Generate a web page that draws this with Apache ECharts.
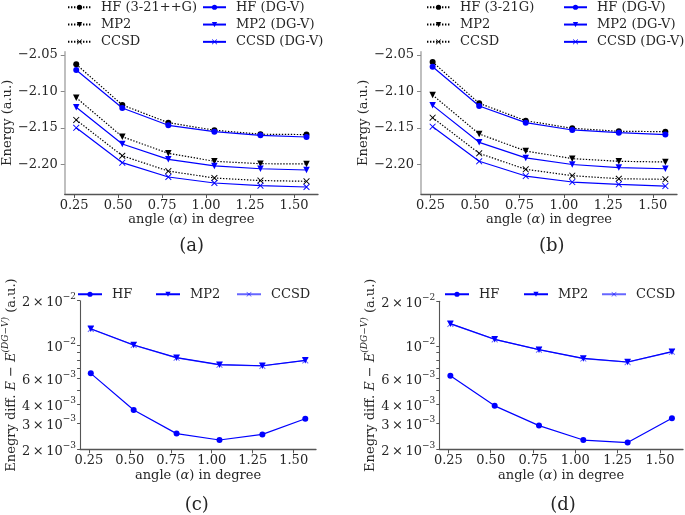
<!DOCTYPE html>
<html><head><meta charset="utf-8">
<script src="https://cdn.jsdelivr.net/npm/echarts@6/dist/echarts.min.js"></script>
<style>html,body{margin:0;padding:0;background:#fff}#c{width:685px;height:515px}</style>
</head><body><div id="c"></div>
<script>
// ---------- data ----------
const angles = [0.2618, 0.5236, 0.7854, 1.0472, 1.3090, 1.5708];
const xTicks = [0.25, 0.50, 0.75, 1.00, 1.25, 1.50];
const energyTicks = [-2.20, -2.15, -2.10, -2.05];
const diffTicks = [0.002, 0.003, 0.004, 0.006, 0.01, 0.02];
const diffAllTicks = [0.002, 0.003, 0.004, 0.005, 0.006, 0.007, 0.008, 0.009, 0.01, 0.02];

// panel (a): 3-21++G vs DG-V
const a_HF      = [-2.0628, -2.1185, -2.1427, -2.1530, -2.1585, -2.1590];
const a_MP2     = [-2.1085, -2.1620, -2.1847, -2.1956, -2.1989, -2.1993];
const a_CCSD    = [-2.1390, -2.1880, -2.2090, -2.2185, -2.2220, -2.2230];
const a_HF_DG   = [-2.0705, -2.1226, -2.1463, -2.1550, -2.1600, -2.1623];
const a_MP2_DG  = [-2.1217, -2.1719, -2.1929, -2.2020, -2.2058, -2.2075];
const a_CCSD_DG = [-2.1498, -2.1975, -2.2171, -2.2253, -2.2290, -2.2308];
// panel (b): 3-21G vs DG-V
const b_HF      = [-2.0596, -2.1162, -2.1400, -2.1504, -2.1545, -2.1550];
const b_MP2     = [-2.1048, -2.1582, -2.1815, -2.1920, -2.1956, -2.1966];
const b_CCSD    = [-2.1359, -2.1847, -2.2066, -2.2153, -2.2195, -2.2203];
const b_HF_DG   = [-2.0660, -2.1199, -2.1427, -2.1527, -2.1564, -2.1590];
const b_MP2_DG  = [-2.1190, -2.1696, -2.1910, -2.2000, -2.2042, -2.2058];
const b_CCSD_DG = [-2.1482, -2.1956, -2.2158, -2.2240, -2.2271, -2.2295];
// panel (c): energy differences (3-21++G)
const c_HF   = [6.49e-3, 3.68e-3, 2.55e-3, 2.31e-3, 2.52e-3, 3.21e-3];
const c_MP2  = [1.296e-2, 1.007e-2, 8.27e-3, 7.42e-3, 7.30e-3, 7.94e-3];
const c_CCSD = [1.29e-2, 1.005e-2, 8.25e-3, 7.40e-3, 7.28e-3, 7.92e-3];
// panel (d): energy differences (3-21G)
const d_HF   = [6.28e-3, 3.93e-3, 2.89e-3, 2.31e-3, 2.22e-3, 3.24e-3];
const d_MP2  = [1.41e-2, 1.106e-2, 9.42e-3, 8.22e-3, 7.77e-3, 9.12e-3];
const d_CCSD = [1.405e-2, 1.104e-2, 9.40e-3, 8.20e-3, 7.75e-3, 9.10e-3];

// ---------- styling ----------
const FONT = '"DejaVu Serif", "Liberation Serif", serif';
const TXT = '#262626';
const FS = 13;
const BLUE = '#0000ff';
const XSYM = 'path://M1,0L5,4L9,0L10,1L6,5L10,9L9,10L5,6L1,10L0,9L4,5L0,1Z';
const VSYM = 'path://M0,0L10,0L5,9Z';
const XMIN = 0.1964, XMAX = 1.6362;

const pair = (ys) => angles.map((x, i) => [x, ys[i]]);
const logPair = (ys) => angles.map((x, i) => [x, Math.log10(ys[i])]);

function lineSeries(name, data, color, symbol, dotted, gi, opacity) {
  return {
    type: 'line', name, data, xAxisIndex: gi, yAxisIndex: gi,
    symbol, symbolSize: symbol === 'circle' ? 6 : 6.5, showSymbol: true,
    lineStyle: { color, width: 1.2, type: dotted ? [1.4, 1.6] : 'solid', opacity: opacity || 1 },
    itemStyle: { color, opacity: opacity || 1 },
    animation: false, z: dotted ? 2 : 3
  };
}

function xAxis(gi, lineColor) {
  return {
    type: 'value', gridIndex: gi, min: XMIN, max: XMAX,
    name: '{r|angle (}{i|α}{r|) in degree}', nameLocation: 'middle', nameGap: gi < 2 ? 18 : 20,
    nameTextStyle: { rich: {
      r: { fontFamily: FONT, fontSize: FS, color: TXT },
      i: { fontFamily: FONT, fontSize: FS, fontStyle: 'italic', color: TXT } } },
    splitLine: { show: false },
    axisLine: { onZero: false, lineStyle: { color: lineColor, width: 1.3 } },
    axisTick: { customValues: xTicks, length: 4, lineStyle: { color: lineColor, width: 1 } },
    axisLabel: { customValues: xTicks, formatter: (v) => v.toFixed(2), fontFamily: FONT, fontSize: FS, color: TXT, margin: 5 }
  };
}

function yEnergy(gi) {
  return {
    type: 'value', gridIndex: gi, min: -2.2404, max: -2.0455,
    name: 'Energy (a.u.)', nameLocation: 'middle', nameGap: 44,
    nameTextStyle: { fontFamily: FONT, fontSize: FS, color: TXT },
    splitLine: { show: false },
    axisLine: { onZero: false, lineStyle: { color: '#b0b0b0', width: 1.6 } },
    axisTick: { customValues: energyTicks, length: 4, lineStyle: { color: '#888', width: 1 } },
    axisLabel: { customValues: energyTicks, formatter: (v) => v.toFixed(2).replace('-', '\u2212'), fontFamily: FONT, fontSize: FS, color: TXT, margin: 7 }
  };
}

function logLabel(v) {
  const val = Math.pow(10, v);
  const exp = Math.floor(Math.log10(val) + 1e-9);
  const mant = Math.round(val / Math.pow(10, exp));
  const e = '{e|\u2212' + (-exp) + '}';
  return mant === 1 ? '{m|10}' + e : '{m|' + mant + '\u2009×\u200910}' + e;
}

function yDiff(gi) {
  return {
    type: 'value', gridIndex: gi, min: Math.log10(0.002), max: Math.log10(0.02),
    name: '{r|Enegry diff. }{i|E}{r| \u2212 }{i|E}{s|(DG\u2212V)}{r| (a.u.)}',
    nameLocation: 'middle', nameGap: 61,
    nameTextStyle: { rich: {
      r: { fontFamily: FONT, fontSize: FS, color: TXT, lineHeight: 17, verticalAlign: 'bottom' },
      i: { fontFamily: FONT, fontSize: FS, fontStyle: 'italic', color: TXT, lineHeight: 17, verticalAlign: 'bottom' },
      s: { fontFamily: FONT, fontSize: 9, fontStyle: 'italic', color: TXT, lineHeight: 10, verticalAlign: 'top' } } },
    splitLine: { show: false },
    axisLine: { onZero: false, lineStyle: { color: '#555', width: 1.1 } },
    axisTick: { customValues: diffAllTicks.map(Math.log10), length: 3, lineStyle: { color: '#555', width: 1 } },
    axisLabel: { customValues: diffTicks.map(Math.log10), formatter: logLabel, color: TXT, margin: 4,
      rich: {
        m: { fontFamily: FONT, fontSize: FS, color: TXT, lineHeight: 17, verticalAlign: 'bottom' },
        e: { fontFamily: FONT, fontSize: 9, color: TXT, lineHeight: 10, verticalAlign: 'top' } } }
  };
}

function legend(left, top, names, iw) {
  return {
    left, top, orient: 'vertical', padding: 0, itemGap: 2.8, itemWidth: iw || 23, itemHeight: 6.5,
    data: names, selectedMode: false,
    textStyle: { fontFamily: FONT, fontSize: FS, color: TXT, lineHeight: 14.5, padding: [0, 0, 0, 5] }
  };
}

const series = [
  lineSeries('HF (3-21++G)', pair(a_HF), '#000', 'circle', true, 0),
  lineSeries('MP2', pair(a_MP2), '#000', VSYM, true, 0),
  lineSeries('CCSD', pair(a_CCSD), '#000', XSYM, true, 0),
  lineSeries('HF (DG-V)', pair(a_HF_DG), BLUE, 'circle', false, 0),
  lineSeries('MP2 (DG-V)', pair(a_MP2_DG), BLUE, VSYM, false, 0),
  lineSeries('CCSD (DG-V)', pair(a_CCSD_DG), BLUE, XSYM, false, 0),

  lineSeries('HF (3-21G)', pair(b_HF), '#000', 'circle', true, 1),
  lineSeries('MP2', pair(b_MP2), '#000', VSYM, true, 1),
  lineSeries('CCSD', pair(b_CCSD), '#000', XSYM, true, 1),
  lineSeries('HF (DG-V)', pair(b_HF_DG), BLUE, 'circle', false, 1),
  lineSeries('MP2 (DG-V)', pair(b_MP2_DG), BLUE, VSYM, false, 1),
  lineSeries('CCSD (DG-V)', pair(b_CCSD_DG), BLUE, XSYM, false, 1),

  lineSeries('HF', logPair(c_HF), BLUE, 'circle', false, 2),
  lineSeries('MP2 ', logPair(c_MP2), BLUE, VSYM, false, 2),
  lineSeries('CCSD ', logPair(c_CCSD), BLUE, XSYM, false, 2, 0.6),

  lineSeries('HF', logPair(d_HF), BLUE, 'circle', false, 3),
  lineSeries('MP2 ', logPair(d_MP2), BLUE, VSYM, false, 3),
  lineSeries('CCSD ', logPair(d_CCSD), BLUE, XSYM, false, 3, 0.6)
];

const TFONT = '18px "DejaVu Serif", "Liberation Serif", serif';
const option = {
  backgroundColor: '#fff',
  animation: false,
  grid: [
    { left: 61, top: 51.7, width: 257, height: 142.3 },
    { left: 421, top: 51.7, width: 256, height: 142.3 },
    { left: 71.7, top: 300.7, width: 244.3, height: 148.6 },
    { left: 439.3, top: 301.2, width: 243.7, height: 148.1 }
  ],
  xAxis: [xAxis(0, '#555'), xAxis(1, '#555'), xAxis(2, '#555'), xAxis(3, '#555')],
  yAxis: [yEnergy(0), yEnergy(1), yDiff(2), yDiff(3)],
  legend: [
    legend(67, 0, ['HF (3-21++G)', 'MP2', 'CCSD']),
    legend(202, 0, ['HF (DG-V)', 'MP2 (DG-V)', 'CCSD (DG-V)']),
    legend(426, 0, ['HF (3-21G)', 'MP2', 'CCSD']),
    legend(563, 0, ['HF (DG-V)', 'MP2 (DG-V)', 'CCSD (DG-V)']),
    legend(77, 287, ['HF'], 24),
    legend(155, 287, ['MP2 '], 24),
    legend(236, 287, ['CCSD '], 24),
    legend(444, 287, ['HF'], 24),
    legend(523, 287, ['MP2 '], 24),
    legend(601, 287, ['CCSD '], 24)
  ],
  graphic: [
    { type: 'text', x: 191.7, y: 246.7, style: { text: '(a)', font: TFONT, fill: TXT, align: 'center', verticalAlign: 'middle' } },
    { type: 'text', x: 551.7, y: 246.7, style: { text: '(b)', font: TFONT, fill: TXT, align: 'center', verticalAlign: 'middle' } },
    { type: 'text', x: 196.7, y: 505, style: { text: '(c)', font: TFONT, fill: TXT, align: 'center', verticalAlign: 'middle' } },
    { type: 'text', x: 563, y: 505, style: { text: '(d)', font: TFONT, fill: TXT, align: 'center', verticalAlign: 'middle' } }
  ],
  series
};

const chart = echarts.init(document.getElementById('c'), null, { renderer: 'canvas' });
chart.setOption(option);
</script>
</body></html>
